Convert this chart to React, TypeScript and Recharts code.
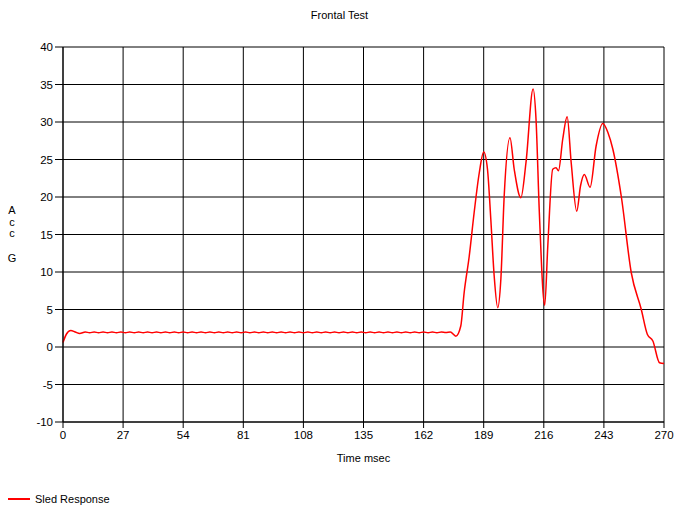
import React from 'react';
import { LineChart, Line, XAxis, YAxis, CartesianGrid } from 'recharts';

// Sled response, time in msec, acceleration in G
const startTimes = [0, 1.5, 3.5, 5.5, 7.5];
const startG = [0.6, 1.7, 2.2, 2.0, 1.8];

const plateauTimes = [
  10, 12, 14, 16, 18, 20, 22, 24, 26, 28,
  30, 32, 34, 36, 38, 40, 42, 44, 46, 48,
  50, 52, 54, 56, 58, 60, 62, 64, 66, 68,
  70, 72, 74, 76, 78, 80, 82, 84, 86, 88,
  90, 92, 94, 96, 98, 100, 102, 104, 106, 108,
  110, 112, 114, 116, 118, 120, 122, 124, 126, 128,
  130, 132, 134, 136, 138, 140, 142, 144, 146, 148,
  150, 152, 154, 156, 158, 160, 162, 164, 166, 168,
  170,
];
const plateauG = [
  2.0, 1.9, 2.0, 1.9, 2.0, 1.9, 2.0, 1.9, 2.0, 1.9,
  2.0, 1.9, 2.0, 1.9, 2.0, 1.9, 2.0, 1.9, 2.0, 1.9,
  2.0, 1.9, 2.0, 1.9, 2.0, 1.9, 2.0, 1.9, 2.0, 1.9,
  2.0, 1.9, 2.0, 1.9, 2.0, 1.9, 2.0, 1.9, 2.0, 1.9,
  2.0, 1.9, 2.0, 1.9, 2.0, 1.9, 2.0, 1.9, 2.0, 1.9,
  2.0, 1.9, 2.0, 1.9, 2.0, 1.9, 2.0, 1.9, 2.0, 1.9,
  2.0, 1.9, 2.0, 1.9, 2.0, 1.9, 2.0, 1.9, 2.0, 1.9,
  2.0, 1.9, 2.0, 1.9, 2.0, 1.9, 2.0, 1.9, 2.0, 1.9,
  2.0,
];

const impactTimes = [
  172, 174, 176.5, 178.7, 180.2, 182.5, 184.7, 187, 189, 190.7,
  192.2, 193.7, 195.3, 196.7, 198.2, 200.8, 202.7, 205.7, 208, 211.2,
  212.5, 214, 216.4, 217.8, 220, 221.5, 222.6, 224.5, 226.5, 228.3,
  230.8, 232.5, 234.2, 236.8, 239.5, 242.5, 244.8, 247, 250.8, 255.3,
  259.8, 262.5, 265, 268, 270,
];
const impactG = [
  1.95, 2.0, 1.45, 2.8, 7.2, 12.1, 17.9, 23.2, 26.0, 23.7,
  17.0, 9.5, 5.25, 9.0, 20.1, 27.9, 23.7, 19.9, 24.6, 34.4,
  30.4, 17.9, 5.56, 13.5, 23.7, 23.9, 23.5, 27.7, 30.7, 24.6,
  18.1, 21.5, 23.0, 21.3, 26.8, 29.8, 28.6, 26.4, 20.1, 9.9,
  5.0, 1.7, 0.8, -2.1, -2.2,
];

const xTicks = [0, 27, 54, 81, 108, 135, 162, 189, 216, 243, 270];
const yTicks = [-10, -5, 0, 5, 10, 15, 20, 25, 30, 35, 40];

// vertical axis caption, one letter per row (blank row before G)
const yCaption = [
  { ch: 'A', y: 210 },
  { ch: 'c', y: 222 },
  { ch: 'c', y: 233 },
  { ch: 'G', y: 258 },
];

const allTimes = [...startTimes, ...plateauTimes, ...impactTimes];
const allG = [...startG, ...plateauG, ...impactG];
const data = allTimes.map((t, i) => ({ time: t, g: allG[i] }));

const font = '"Liberation Sans", Arial, sans-serif';
const tickStyle = { fill: '#000', fontSize: 11.5, fontFamily: font };

export default function App() {
  return (
    <div style={{ position: 'absolute', left: 0, top: 0, width: 682, height: 515, background: '#fff', fontFamily: font, fontSize: 11, color: '#000' }}>
      <div style={{ position: 'absolute', left: 0, top: 8, width: 679, textAlign: 'center', lineHeight: '14px' }}>Frontal Test</div>

      {yCaption.map((c, i) => (
        <div key={i} style={{ position: 'absolute', left: 5, top: c.y - 5, width: 14, height: 10, textAlign: 'center', lineHeight: '10px' }}>
          {c.ch}
        </div>
      ))}

      <LineChart width={682} height={515} data={data} margin={{ top: 47, right: 18, left: 0, bottom: 0 }}>
        <CartesianGrid stroke="#000" strokeOpacity={1} horizontalValues={yTicks} verticalValues={xTicks} />
        <XAxis
          dataKey="time"
          type="number"
          domain={[0, 270]}
          ticks={xTicks}
          interval={0}
          height={93}
          tickSize={6}
          tickMargin={3}
          tick={tickStyle}
          axisLine={{ stroke: '#000' }}
          tickLine={{ stroke: '#000' }}
        />
        <YAxis
          type="number"
          domain={[-10, 40]}
          ticks={yTicks}
          interval={0}
          width={63}
          tickSize={8}
          tickMargin={2}
          tick={tickStyle}
          axisLine={{ stroke: '#000' }}
          tickLine={{ stroke: '#000' }}
        />
        <Line
          type="monotone"
          dataKey="g"
          stroke="#ff0000"
          strokeWidth={1.5}
          dot={false}
          isAnimationActive={false}
        />
      </LineChart>

      <div style={{ position: 'absolute', left: 313, top: 451, width: 101, textAlign: 'center', lineHeight: '14px' }}>Time msec</div>

      <div style={{ position: 'absolute', left: 8, top: 492, height: 14, display: 'flex', alignItems: 'center' }}>
        <div style={{ width: 22, height: 2, background: '#ff0000', marginRight: 5 }} />
        <span style={{ lineHeight: '14px' }}>Sled Response</span>
      </div>
    </div>
  );
}
